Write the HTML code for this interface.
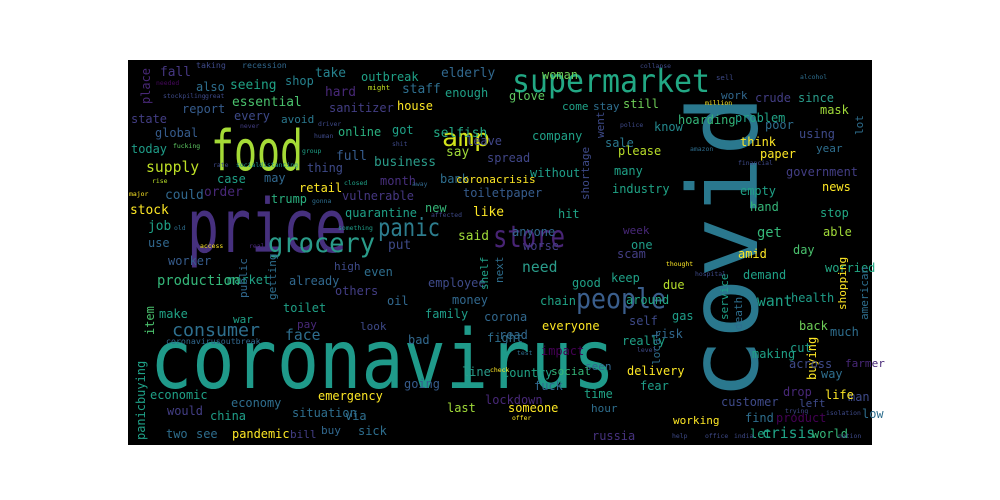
<!DOCTYPE html>
<html><head><meta charset="utf-8">
<style>
html,body{margin:0;padding:0;background:#fff;width:1000px;height:500px;overflow:hidden}
svg text{font-family:"DejaVu Sans Mono","Liberation Mono",monospace}
</style></head>
<body>
<svg width="1000" height="500">
<rect x="128" y="60" width="744" height="385" fill="#000"/>
<g id="words"></g>
</svg>
<script>
// word, x, y(baseline), size, color, rotated(1=vertical), fitted length (0 = natural)
const words = [
["coronavirus",150,388,82,"#1f9a8a",0,465],
["covid",757,400,96,"#2a788e",1,305],
["price",187,252,74,"#46307e",0,160],
["food",211,170,56,"#a5db36",0,92],
["supermarket",512,92,32,"#22a884",0,198],
["grocery",268,252,27,"#2a9c8a",0,107],
["store",493,247,30,"#482475",0,72],
["people",576,308,28,"#3a5e8c",0,90],
["panic",378,236,25,"#2d7d8e",0,62],
["amp",442,146,24,"#d2e21b",0,48],
["consumer",172,336,18,"#2e6f8e",0,88],
["fall",160,76,14,"#453781",0,0],["taking",196,68,9,"#3e4a89",0,0],["recession",242,68,9,"#31688e",0,0],
["also",196,91,13,"#2e6e8e",0,0],["seeing",230,89,14,"#20a386",0,0],["shop",285,85,13,"#26828e",0,0],
["take",315,77,14,"#26828e",0,0],["outbreak",361,81,13,"#1fa187",0,0],["elderly",441,77,14,"#31688e",0,0],
["place",150,104,13,"#482878",1,0],["needed",156,85,7,"#46085c",0,0],["stockpiling",163,98,7,"#3e4a89",0,0],["great",205,98,7,"#3e4a89",0,0],
["hard",325,96,14,"#482878",0,0],["might",368,90,8,"#c2df23",0,0],["staff",402,93,14,"#2e6e8e",0,0],["enough",445,97,13,"#1fa187",0,0],
["essential",232,106,14,"#4ac16d",0,0],["every",234,120,13,"#3e4a89",0,0],["report",182,113,13,"#365c8d",0,0],
["state",131,123,13,"#433e85",0,0],["avoid",281,123,12,"#2a788e",0,0],["driver",318,126,7,"#3e4a89",0,0],
["sanitizer",329,112,13,"#433e85",0,0],["house",397,110,13,"#fde725",0,0],["global",155,137,13,"#365c8d",0,0],
["never",240,128,7,"#433e85",0,0],["human",314,138,7,"#3e4a89",0,0],["online",338,136,13,"#2ab07f",0,0],
["got",392,134,13,"#1fa187",0,0],["selfish",433,137,14,"#22a884",0,0],["today",131,153,13,"#1f9e89",0,0],
["fucking",173,148,7,"#5ec962",0,0],["shit",392,146,7,"#3e4a89",0,0],["group",302,153,7,"#1fa187",0,0],
["full",336,160,14,"#365c8d",0,0],["say",446,156,14,"#a0da39",0,0],["leave",466,145,13,"#404688",0,0],
["supply",146,172,16,"#bddf26",0,0],["rate",213,167,7,"#3e4a89",0,0],["socialdistancing",236,167,7,"#21918c",0,0],
["thing",307,172,13,"#3e4a89",0,0],["business",374,166,14,"#2a9c8a",0,0],["spread",487,162,13,"#404688",0,0],
["case",217,183,13,"#1fa187",0,0],["may",264,182,13,"#31688e",0,0],["month",380,185,13,"#472f7d",0,0],
["bank",440,183,13,"#2e6e8e",0,0],["coronacrisis",456,183,12,"#fde725",0,0],["rise",152,183,7,"#b8de29",0,0],
["closed",344,185,7,"#1fa187",0,0],["away",412,186,7,"#31688e",0,0],["major",129,196,7,"#fde725",0,0],
["could",165,199,14,"#31688e",0,0],["order",204,196,14,"#482878",0,0],["retail",299,192,13,"#fde725",0,0],
["vulnerable",342,200,13,"#453781",0,0],["toiletpaper",463,197,13,"#365c8d",0,0],
["stock",130,214,14,"#fde725",0,0],["trump",271,203,13,"#2ab07f",0,0],["gonna",312,203,7,"#2e6e8e",0,0],
["new",425,212,13,"#35b779",0,0],["quarantine",345,217,13,"#1fa187",0,0],["affected",431,217,7,"#3e4a89",0,0],["like",473,216,14,"#fde725",0,0],
["job",148,230,14,"#1fa187",0,0],["old",174,230,7,"#2e6e8e",0,0],["something",338,230,7,"#1f9e89",0,0],
["said",458,240,14,"#a0da39",0,0],["use",148,247,13,"#31688e",0,0],["access",200,248,7,"#fde725",0,0],
["real",249,248,7,"#482878",0,0],["put",388,249,14,"#3e4a89",0,0],["anyone",512,236,13,"#31688e",0,0],
["hit",558,218,13,"#20a386",0,0],["worse",523,250,13,"#433e85",0,0],["without",530,177,13,"#1f9e89",0,0],
["come",562,110,12,"#1fa187",0,0],["stay",593,110,12,"#2e6e8e",0,0],["woman",542,79,13,"#6ece58",0,0],
["glove",509,100,13,"#5ec962",0,0],["company",532,140,13,"#1fa187",0,0],["sale",605,147,13,"#2a788e",0,0],
["still",623,108,13,"#6ece58",0,0],["know",654,131,13,"#23898e",0,0],["hoarding",678,124,13,"#35b779",0,0],
["please",618,155,13,"#b8de29",0,0],["many",614,175,13,"#1fa187",0,0],["industry",612,193,13,"#20a386",0,0],
["week",623,234,12,"#482878",0,0],["one",631,249,13,"#1f9e89",0,0],["scam",617,258,13,"#433e85",0,0],
["keep",611,282,13,"#1fa187",0,0],["good",572,287,13,"#1fa187",0,0],["due",663,289,13,"#b5de2b",0,0],
["around",626,304,13,"#22a884",0,0],["self",629,325,13,"#3e4a89",0,0],["really",622,345,13,"#1fa187",0,0],
["risk",654,338,13,"#31688e",0,0],["gas",672,320,13,"#1f9e89",0,0],["delivery",627,375,13,"#fde725",0,0],
["fear",640,390,13,"#1f9e89",0,0],["time",584,398,13,"#20a386",0,0],["hour",591,412,12,"#2e6e8e",0,0],
["working",673,424,12,"#fde725",0,0],["russia",592,440,13,"#46327e",0,0],["seen",585,370,12,"#31688e",0,0],
["need",522,272,16,"#2a9c8a",0,0],["chain",540,305,13,"#20a386",0,0],["corona",484,321,13,"#31688e",0,0],
["everyone",542,330,13,"#fde725",0,0],["read",499,339,13,"#31688e",0,0],["fight",487,342,13,"#2e6e8e",0,0],
["impact",541,355,13,"#440154",0,0],["social",551,375,12,"#35b779",0,0],["country",502,377,13,"#20a386",0,0],
["line",462,376,13,"#2a9c8a",0,0],["going",404,388,13,"#365c8d",0,0],["fuck",534,390,13,"#31688e",0,0],
["lockdown",485,404,13,"#482878",0,0],["last",447,412,13,"#a0da39",0,0],["someone",508,412,13,"#fde725",0,0],
["employee",428,287,13,"#3e4a89",0,0],["money",452,304,13,"#31688e",0,0],["family",425,318,13,"#1f9e89",0,0],
["look",360,330,12,"#3e4a89",0,0],["bad",408,344,13,"#31688e",0,0],["others",335,295,13,"#433e85",0,0],
["even",364,276,13,"#2e6e8e",0,0],["oil",387,305,13,"#31688e",0,0],["high",334,270,12,"#3e4a89",0,0],
["already",289,285,13,"#31688e",0,0],["toilet",283,312,13,"#1fa187",0,0],["face",285,340,16,"#2e6e8e",0,0],
["pay",297,328,12,"#482878",0,0],["war",233,323,12,"#1fa187",0,0],["market",227,284,13,"#20a386",0,0],
["worker",168,265,13,"#365c8d",0,0],["production",157,285,15,"#35b779",0,0],["make",159,318,13,"#20a386",0,0],
["economic",150,399,13,"#1fa187",0,0],["would",167,415,13,"#433e85",0,0],["two",166,438,13,"#2e6e8e",0,0],
["see",196,438,13,"#2e6e8e",0,0],["china",210,420,13,"#1f9e89",0,0],["economy",231,407,13,"#2e6e8e",0,0],
["pandemic",232,438,13,"#fde725",0,0],["bill",290,438,12,"#433e85",0,0],["situation",292,417,13,"#2e6e8e",0,0],
["via",345,420,13,"#2e6e8e",0,0],["buy",321,434,12,"#31688e",0,0],["sick",358,435,13,"#2e6e8e",0,0],
["emergency",318,400,13,"#fde725",0,0],["coronavirusoutbreak",166,344,9,"#31688e",0,0],
["panicbuying",145,440,13,"#1fa187",1,0],["item",154,335,13,"#4ac16d",1,0],["getting",276,300,12,"#2e6e8e",1,0],
["public",247,298,12,"#31688e",1,0],["next",503,283,12,"#2e6e8e",1,0],["shelf",488,290,12,"#1fa187",1,0],
["local",660,365,12,"#2e6e8e",1,0],["went",604,138,12,"#3e4a89",1,0],["shortage",589,200,12,"#3e4a89",1,0],
["crude",755,102,13,"#433e85",0,0],["since",798,102,13,"#2a9c8a",0,0],["mask",820,114,13,"#a0da39",0,0],
["work",721,99,12,"#31688e",0,0],["problem",735,122,13,"#20a386",0,0],["poor",765,129,13,"#2e6e8e",0,0],
["think",740,146,13,"#fde725",0,0],["using",799,138,13,"#3e4a89",0,0],["paper",760,158,13,"#fde725",0,0],
["year",816,152,12,"#2e6e8e",0,0],["lot",863,135,12,"#2e6e8e",1,0],["government",786,176,13,"#433e85",0,0],
["news",822,191,13,"#fde725",0,0],["empty",740,195,13,"#1fa187",0,0],["hand",750,211,13,"#35b779",0,0],
["stop",820,217,13,"#22a884",0,0],["get",757,237,15,"#35b779",0,0],["able",823,236,13,"#a0da39",0,0],
["day",793,254,13,"#4ac16d",0,0],["amid",738,258,13,"#fde725",0,0],["worried",825,272,13,"#22a884",0,0],
["demand",743,279,13,"#1fa187",0,0],["health",791,302,13,"#1f9e89",0,0],["want",757,306,16,"#1fa187",0,0],
["american",868,320,12,"#2e6e8e",1,0],["shopping",846,310,12,"#fde725",1,0],["service",728,320,12,"#1fa187",1,0],
["death",742,330,12,"#2e6e8e",1,0],["buying",816,380,13,"#fde725",1,0],["back",799,330,13,"#6ece58",0,0],
["cut",790,352,13,"#1f9e89",0,0],["much",830,336,13,"#2e6e8e",0,0],["making",752,358,13,"#1fa187",0,0],
["across",789,368,13,"#3e4a89",0,0],["farmer",845,367,12,"#482878",0,0],["drop",783,396,13,"#482878",0,0],
["way",821,378,13,"#2e6e8e",0,0],["left",799,407,12,"#3e4a89",0,0],["customer",721,406,13,"#3e4a89",0,0],
["man",848,401,13,"#3e4a89",0,0],["life",825,399,13,"#fde725",0,0],["product",776,422,13,"#440154",0,0],
["find",745,422,13,"#2e6e8e",0,0],["let",750,438,13,"#22a884",0,0],["low",862,418,13,"#2e6e8e",0,0],
["crisis",762,438,16,"#20a386",0,0],["world",812,438,13,"#35b779",0,0],["million",705,105,7,"#fde725",0,0],
["sell",716,80,8,"#3e4a89",0,0],["collapse",640,68,7,"#3e4a89",0,0],["police",620,127,7,"#3e4a89",0,0],
["amazon",690,151,7,"#2e6e8e",0,0],["financial",738,165,7,"#3e4a89",0,0],["alcohol",800,79,7,"#2e6e8e",0,0],
["hospital",695,276,7,"#3e4a89",0,0],["thought",666,266,7,"#fde725",0,0],["check",490,372,7,"#fde725",0,0],
["test",517,355,7,"#2e6e8e",0,0],["level",637,352,7,"#3e4a89",0,0],["offer",512,420,7,"#fde725",0,0],
["help",672,438,7,"#3e4a89",0,0],["india",734,438,7,"#3e4a89",0,0],["office",705,438,7,"#3e4a89",0,0],
["nation",838,438,7,"#3e4a89",0,0],["isolation",826,415,7,"#3e4a89",0,0],["trying",785,413,7,"#3e4a89",0,0]
];
const NS = "http://www.w3.org/2000/svg";
const g = document.getElementById("words");
words.forEach(function(w){
  const t = document.createElementNS(NS, "text");
  
  
  t.textContent = w[0];
  const size = w[6] > 0 ? w[3] : w[3] * 0.92;
  t.setAttribute("font-size", size);
  t.setAttribute("fill", w[4]);
  if (w[6] > 0) { t.setAttribute("textLength", w[6]); t.setAttribute("lengthAdjust", "spacingAndGlyphs"); }
  if (w[5] === 1) {
    t.setAttribute("transform", "translate(" + w[1] + "," + w[2] + ") rotate(-90)");
  } else {
    t.setAttribute("x", w[1]);
    t.setAttribute("y", w[2]);
  }
  g.appendChild(t);
});
</script>
</body></html>
